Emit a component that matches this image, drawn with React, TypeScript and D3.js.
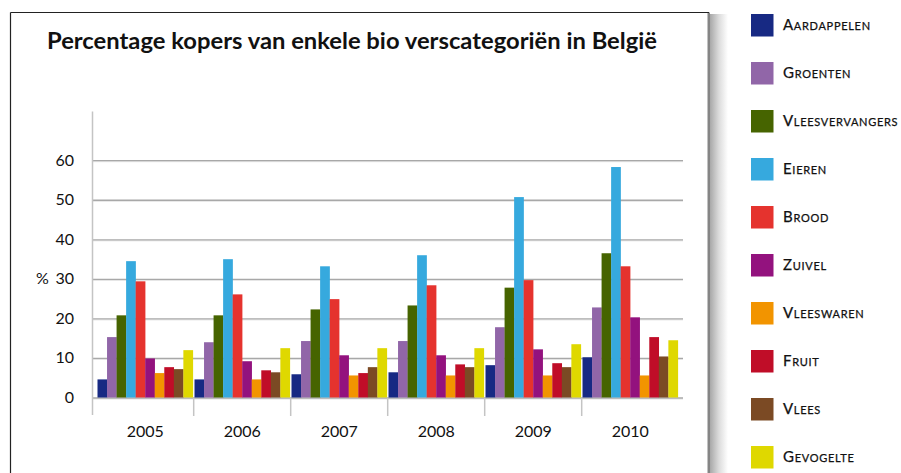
import React from 'react';
import * as d3 from 'd3';

// Percentage kopers van bio verscategorieën, per jaar
const years = ['2005', '2006', '2007', '2008', '2009', '2010'];
const categories = [
  'Aardappelen', 'Groenten', 'Vleesvervangers', 'Eieren', 'Brood',
  'Zuivel', 'Vleeswaren', 'Fruit', 'Vlees', 'Gevogelte',
];
const colors = [
  '#172983', '#9166a8', '#466400', '#36a9de', '#e5332e',
  '#93127e', '#f29400', '#c00d28', '#7b4a24', '#dfd800',
];

const aardappelen = [4.7, 4.7, 6.0, 6.5, 8.3, 10.3];
const groenten = [15.4, 14.1, 14.4, 14.4, 17.9, 22.9];
const vleesvervangers = [20.9, 20.9, 22.4, 23.4, 27.9, 36.6];
const eieren = [34.6, 35.1, 33.3, 36.1, 50.8, 58.4];
const brood = [29.5, 26.2, 25.0, 28.5, 29.8, 33.3];
const zuivel = [10.0, 9.3, 10.8, 10.8, 12.3, 20.4];
const vleeswaren = [6.3, 4.7, 5.7, 5.7, 5.7, 5.7];
const fruit = [7.8, 7.0, 6.3, 8.5, 8.8, 15.4];
const vlees = [7.3, 6.5, 7.8, 7.8, 7.8, 10.5];
const gevogelte = [12.1, 12.6, 12.6, 12.6, 13.6, 14.6];

const yTicks = [0, 10, 20, 30, 40, 50, 60];

const series = [
  aardappelen, groenten, vleesvervangers, eieren, brood,
  zuivel, vleeswaren, fruit, vlees, gevogelte,
];

const W = 901;
const H = 473;

export default function App() {
  const x0 = d3.scaleBand<string>().domain(years).range([96.7, 678.7]).padding(0);
  const x1 = d3.scaleBand<string>()
    .domain(categories)
    .range([0.8, x0.bandwidth() - 0.8])
    .padding(0);
  const y = d3.scaleLinear().domain([0, 60]).range([398, 160.7]);

  const axisX = 92.5;
  const gridEnd = 683;
  const font = 'Lato, "Open Sans", sans-serif';

  return (
    <svg
      width={W}
      height={H}
      style={{ position: 'absolute', left: 0, top: 0, background: '#fff' }}
    >
      <defs>
        <linearGradient id="shadow" x1="0" x2="1" y1="0" y2="0">
          <stop offset="0" stopColor="#a8a8a8" />
          <stop offset="0.5" stopColor="#dcdcdc" />
          <stop offset="1" stopColor="#ffffff" />
        </linearGradient>
      </defs>

      {/* frame */}
      <rect x={710} y={14} width={18} height={H - 14} fill="url(#shadow)" />
      <rect x={707.5} y={12.5} width={2.5} height={H} fill="#858585" />
      <line x1={10.5} x2={10.5} y1={12.5} y2={H} stroke="#222" strokeWidth={1.2} />
      <line x1={10.5} x2={709} y1={12.5} y2={12.5} stroke="#222" strokeWidth={1.2} />

      <text
        x={352}
        y={48.5}
        textAnchor="middle"
        fontFamily={font}
        fontWeight={700}
        fontSize={22}
        textLength={610}
        lengthAdjust="spacingAndGlyphs"
        fill="#111"
      >
        Percentage kopers van enkele bio verscategoriën in België
      </text>

      {/* grid */}
      {yTicks.map((t) => (
        <g key={t}>
          <line x1={axisX} x2={gridEnd} y1={y(t) + 1} y2={y(t) + 1} stroke="#e2e2e2" strokeWidth={1} />
          <line x1={axisX} x2={gridEnd} y1={y(t)} y2={y(t)} stroke="#a8a8a8" strokeWidth={1.3} />
          <text
            x={74}
            y={y(t) + 5}
            textAnchor="end"
            fontFamily={font}
            fontSize={16}
            fill="#111"
          >
            {t}
          </text>
        </g>
      ))}
      <text x={36} y={y(30) + 5} fontFamily={font} fontSize={16} fill="#111">
        %
      </text>

      {/* bars */}
      {years.map((yr, i) => (
        <g key={yr} transform={`translate(${x0(yr)},0)`}>
          {categories.map((c, j) => (
            <rect
              key={c}
              x={x1(c)}
              y={y(series[j][i])}
              width={x1.bandwidth() + 0.2}
              height={y(0) - y(series[j][i]) - 0.5}
              fill={colors[j]}
            />
          ))}
        </g>
      ))}

      {/* axes */}
      <line x1={axisX} x2={axisX} y1={111.5} y2={415} stroke="#c4c4c4" strokeWidth={1.5} />
      {years.slice(1).map((yr) => (
        <line
          key={yr}
          x1={x0(yr)}
          x2={x0(yr)}
          y1={398}
          y2={416}
          stroke="#c4c4c4"
          strokeWidth={1.5}
        />
      ))}
      {years.map((yr) => (
        <text
          key={yr}
          x={(x0(yr) as number) + x0.bandwidth() / 2}
          y={437}
          textAnchor="middle"
          fontFamily={font}
          fontSize={16}
          fill="#111"
        >
          {yr}
        </text>
      ))}

      {/* legend */}
      {categories.map((c, j) => (
        <g key={c} transform={`translate(751,${14 + j * 48})`}>
          <rect width={22.5} height={22.5} fill={colors[j]} />
          <text
            x={32}
            y={15.5}
            fontFamily={font}
            fontSize={15}
            fontVariant="small-caps"
            letterSpacing={0.7}
            stroke="#111"
            strokeWidth={0.25}
            fill="#111"
          >
            {c}
          </text>
        </g>
      ))}
    </svg>
  );
}
